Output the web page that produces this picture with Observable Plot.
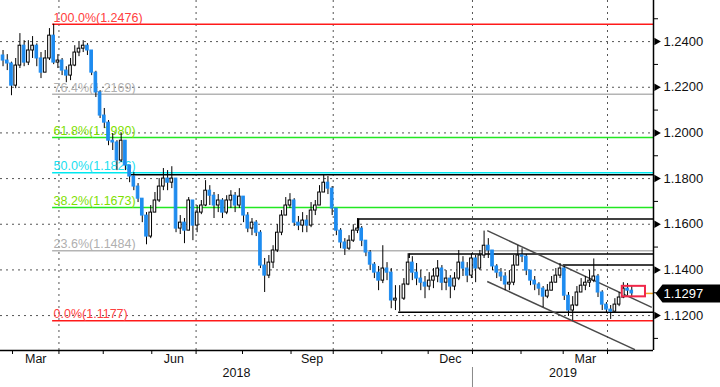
<!DOCTYPE html>
<html><head><meta charset="utf-8">
<script src="https://cdn.jsdelivr.net/npm/d3@7"></script>
<script src="https://cdn.jsdelivr.net/npm/@observablehq/plot@0.6"></script>
<style>html,body{margin:0;padding:0;background:#fff;overflow:hidden}</style>
</head><body><div id="chart"></div>
<script>
// ---- data (EUR/USD, 2-trading-day candles) ----
const barStart = "2018-02-22";
const barSpan = 2;
const firstOpen = 1.2339;
const closes = [
 1.2317,1.2304,1.2207,1.2295,1.2382,1.2308,1.2361,1.2382,1.2326,1.2264,
 1.2326,1.2426,1.2308,1.2317,1.2273,1.2251,1.2295,1.2352,1.2369,1.2382,
 1.2361,1.2264,1.2177,1.2076,1.2045,1.1966,1.1958,1.1879,1.1966,1.1857,
 1.1809,1.1765,1.1712,1.1638,1.1546,1.1651,1.1704,1.1765,1.1800,1.1782,
 1.1800,1.1581,1.1607,1.1572,1.1704,1.1594,1.1651,1.1682,1.1747,1.1725,
 1.1682,1.1704,1.1651,1.1704,1.1725,1.1682,1.1721,1.1638,1.1581,1.1607,
 1.1563,1.1419,1.1375,1.1432,1.1485,1.1563,1.1638,1.1682,1.1704,1.1607,
 1.1594,1.1616,1.1594,1.1660,1.1682,1.1739,1.1782,1.1756,1.1669,1.1572,
 1.1520,1.1493,1.1528,1.1572,1.1581,1.1528,1.1476,1.1423,1.1388,1.1353,
 1.1406,1.1388,1.1266,1.1274,1.1274,1.1336,1.1432,1.1388,1.1362,1.1344,
 1.1327,1.1353,1.1371,1.1406,1.1344,1.1362,1.1327,1.1362,1.1432,1.1406,
 1.1375,1.1450,1.1406,1.1463,1.1506,1.1485,1.1415,1.1388,1.1371,1.1336,
 1.1344,1.1419,1.1463,1.1458,1.1397,1.1353,1.1336,1.1318,1.1283,1.1309,
 1.1344,1.1375,1.1406,1.1287,1.1222,1.1244,1.1301,1.1331,1.1344,1.1353,
 1.1371,1.1301,1.1248,1.1226,1.1217,1.1248,1.1279,1.1318,1.1309,1.1297
];
const highs = [
 1.2361,1.2343,1.2310,1.2326,1.2435,1.2404,1.2404,1.2422,1.2390,1.2352,
 1.2361,1.2457,1.2476,1.2343,1.2326,1.2290,1.2326,1.2382,1.2396,1.2404,
 1.2391,1.2361,1.2270,1.2185,1.2107,1.2054,1.1997,1.1966,1.1997,1.1966,
 1.1857,1.1826,1.1778,1.1712,1.1651,1.1682,1.1739,1.1800,1.1844,1.1835,
 1.1852,1.1800,1.1638,1.1625,1.1717,1.1704,1.1682,1.1704,1.1791,1.1769,
 1.1739,1.1730,1.1712,1.1725,1.1747,1.1739,1.1756,1.1721,1.1651,1.1625,
 1.1616,1.1572,1.1450,1.1463,1.1506,1.1598,1.1660,1.1717,1.1734,1.1712,
 1.1634,1.1651,1.1638,1.1695,1.1704,1.1769,1.1815,1.1809,1.1765,1.1669,
 1.1581,1.1537,1.1550,1.1598,1.1625,1.1590,1.1528,1.1485,1.1432,1.1415,
 1.1506,1.1432,1.1406,1.1331,1.1331,1.1362,1.1471,1.1458,1.1428,1.1397,
 1.1371,1.1388,1.1406,1.1441,1.1419,1.1397,1.1375,1.1388,1.1485,1.1458,
 1.1432,1.1471,1.1463,1.1485,1.1570,1.1537,1.1485,1.1423,1.1406,1.1388,
 1.1397,1.1463,1.1506,1.1493,1.1467,1.1397,1.1371,1.1344,1.1327,1.1336,
 1.1371,1.1406,1.1428,1.1415,1.1301,1.1283,1.1327,1.1362,1.1371,1.1397,
 1.1448,1.1380,1.1309,1.1257,1.1244,1.1274,1.1301,1.1344,1.1340,1.1327
];
const lows = [
 1.2290,1.2273,1.2163,1.2194,1.2282,1.2290,1.2295,1.2326,1.2290,1.2238,
 1.2264,1.2317,1.2299,1.2282,1.2251,1.2220,1.2229,1.2290,1.2334,1.2352,
 1.2339,1.2251,1.2155,1.2063,1.2019,1.1944,1.1923,1.1835,1.1870,1.1835,
 1.1782,1.1747,1.1695,1.1607,1.1510,1.1537,1.1651,1.1695,1.1747,1.1747,
 1.1756,1.1563,1.1555,1.1515,1.1572,1.1528,1.1563,1.1642,1.1677,1.1682,
 1.1625,1.1651,1.1625,1.1642,1.1669,1.1651,1.1669,1.1607,1.1563,1.1550,
 1.1546,1.1406,1.1301,1.1362,1.1406,1.1476,1.1550,1.1638,1.1669,1.1590,
 1.1572,1.1563,1.1563,1.1585,1.1638,1.1682,1.1739,1.1730,1.1638,1.1550,
 1.1493,1.1463,1.1485,1.1520,1.1559,1.1502,1.1458,1.1397,1.1362,1.1309,
 1.1340,1.1353,1.1230,1.1222,1.1216,1.1266,1.1331,1.1353,1.1331,1.1309,
 1.1274,1.1309,1.1318,1.1344,1.1309,1.1309,1.1274,1.1309,1.1353,1.1371,
 1.1344,1.1362,1.1344,1.1397,1.1450,1.1450,1.1397,1.1362,1.1349,1.1309,
 1.1309,1.1331,1.1419,1.1432,1.1375,1.1331,1.1309,1.1287,1.1235,1.1274,
 1.1309,1.1344,1.1362,1.1266,1.1196,1.1177,1.1239,1.1301,1.1309,1.1323,
 1.1344,1.1279,1.1222,1.1209,1.1183,1.1213,1.1239,1.1274,1.1287,1.1283
];

// Fibonacci retracement
const fibPct = [100, 76.4, 61.8, 50, 38.2, 23.6, 0];
const fibValues = [1.2476, 1.2169, 1.1980, 1.1826, 1.1673, 1.1484, 1.1177];
const fibStart = "2018-03-28";

// drawn support / resistance lines
const levelValues = [1.1817, 1.1623, 1.1470, 1.1422, 1.1214];
const levelStarts = ["2018-05-17", "2018-10-17", "2018-11-20", "2019-03-01", "2018-11-13"];
const levelTickEnds = [null, 1.1581, 1.1450, null, null];

// falling channel
const channelStarts = ["2019-01-10", "2019-01-10"];
const channelEnds = ["2019-04-30", "2019-04-18"];
const channelStartValues = [1.1572, 1.1349];
const channelEndValues = [1.1236, 1.1051];

const lastPrice = 1.1297;
const boxDates = ["2019-04-10", "2019-04-25"];
const boxValues = [1.1282, 1.1328];

// axes
const xDomain = [-5.7, 303.8];          // trading-day index (0 = 2018-03-01)
const yDomain = [1.1047, 1.2580];
const yMajorTicks = [1.12, 1.14, 1.16, 1.18, 1.20, 1.22, 1.24];
const yMinorTicks = [1.11, 1.13, 1.15, 1.17, 1.19, 1.21, 1.23, 1.25];
const monthStarts = ["2018-03-01","2018-04-01","2018-05-01","2018-06-01","2018-07-01","2018-08-01","2018-09-01",
  "2018-10-01","2018-11-01","2018-12-01","2019-01-01","2019-02-01","2019-03-01","2019-04-01"];
const gridDates = ["2018-04-01","2018-07-01","2018-10-01","2019-01-01","2019-04-01"];
const monthLabelNames = ["Mar","Jun","Sep","Dec","Mar"];
const monthLabelMonths = ["2018-03","2018-06","2018-09","2018-12","2019-03"];
const yearLabels = ["2018","2019"];
const yearBoundary = "2019-01-01";

// ---- styles ----
const fibLineColors = ["#ff1a1a","#b4b4b4","#22e822","#00e8f0","#22e822","#b4b4b4","#ff1a1a"];
const fibTextColors = ["#ff4040","#b0b0b0","#7ee000","#20e0f0","#7ee000","#b0b0b0","#ff4040"];
const upFill = "#ffffff", downFill = "#1e8cf0";

// ---- helpers ----
const origin = new Date("2018-03-01T00:00:00Z");
const weekdays = (a, b) => d3.utcDay.range(a, b).filter(t => t.getUTCDay() % 6 !== 0).length;
function tIdx(s) {
  const d = new Date(s + "T00:00:00Z");
  return d >= origin ? weekdays(origin, d) : -weekdays(d, origin);
}

const i0 = tIdx(barStart);
const candles = closes.map((c, k) => {
  const open = k ? closes[k - 1] : firstOpen;
  return {i: i0 + barSpan * k + (barSpan - 1) / 2, open, close: c,
          high: Math.max(highs[k], open, c), low: Math.min(lows[k], open, c), up: c >= open};
});

const fibStartIdx = tIdx(fibStart);
const fibs = fibValues.map((v, j) => ({value: v, pct: fibPct[j], start: fibStartIdx, end: xDomain[1],
  line: fibLineColors[j], textColor: fibTextColors[j]}));
const levels = levelValues.map((v, j) => ({value: v, start: tIdx(levelStarts[j]), end: xDomain[1], tickEnd: levelTickEnds[j]}));
const channel = channelStartValues.map((v, j) => ({x1: tIdx(channelStarts[j]), x2: tIdx(channelEnds[j]), y1: v, y2: channelEndValues[j]}));
const box = [{x1: tIdx(boxDates[0]), x2: tIdx(boxDates[1]), y1: boxValues[0], y2: boxValues[1]}];
const monthIdx = monthStarts.map(tIdx);
const gridIdx = gridDates.map(tIdx);
const monthLabels = monthLabelMonths.map((m, j) => {
  const s = new Date(m + "-01T00:00:00Z");
  const e = d3.utcMonth.offset(s, 1);
  const a = tIdx(s.toISOString().slice(0, 10)), b = tIdx(e.toISOString().slice(0, 10));
  return {pos: (a + b) / 2, name: monthLabelNames[j]};
});
const yb = tIdx(yearBoundary);
const years = [{pos: (xDomain[0] + yb) / 2, name: yearLabels[0]}, {pos: (yb + xDomain[1]) / 2, name: yearLabels[1]}];

const tagSymbol = {draw(ctx) {
  ctx.moveTo(2, 0); ctx.lineTo(9, -9); ctx.lineTo(67, -9); ctx.lineTo(67, 9); ctx.lineTo(9, 9); ctx.closePath();
}};

const chart = Plot.plot({
  width: 720, height: 387,
  marginLeft: 0, marginRight: 67, marginTop: 0, marginBottom: 37,
  x: {domain: xDomain, label: null},
  y: {domain: yDomain, label: null},
  style: {fontFamily: "'Liberation Sans', Arial, sans-serif", background: "#fff", color: "#111"},
  marks: [
    // dotted grid
    Plot.ruleY(yMajorTicks, {stroke: "#555", strokeDasharray: "2,4"}),
    Plot.ruleX(gridIdx, {stroke: "#555", strokeDasharray: "2,4"}),
    // black levels
    Plot.ruleY(levels, {y: "value", x1: "start", x2: "end", stroke: "#000", strokeWidth: 1.5}),
    Plot.ruleX(levels.filter(d => d.tickEnd != null), {x: "start", y1: "value", y2: "tickEnd", stroke: "#000", strokeWidth: 1.5}),
    // fib levels
    Plot.ruleY(fibs, {y: "value", x1: "start", x2: "end", stroke: "line", strokeWidth: 1.5}),
    Plot.text(fibs, {x: "start", y: "value", text: d => `${d.pct.toFixed(1)}%(${d.value.toFixed(4)})`,
      fill: "textColor", textAnchor: "start", lineAnchor: "bottom", dx: 1, dy: -2.5, fontSize: 12.5}),
    // channel
    Plot.link(channel, {x1: "x1", y1: "y1", x2: "x2", y2: "y2", stroke: "#4a4a4a", strokeWidth: 1.5}),
    // candles
    Plot.ruleX(candles, {x: "i", y1: "low", y2: "high", stroke: "#000", strokeWidth: 1}),
    Plot.rect(candles, {x1: d => d.i - 0.62, x2: d => d.i + 0.62, y1: "open", y2: "close",
      fill: d => d.up ? upFill : downFill, stroke: d => d.up ? "#000" : downFill, strokeWidth: 1}),
    // last price markers
    Plot.ruleY([lastPrice], {x1: box[0].x2, x2: xDomain[1], stroke: "#f0a020", strokeWidth: 1.5}),
    Plot.rect(box, {x1: "x1", x2: "x2", y1: "y1", y2: "y2", fill: "none", stroke: "#f0284a", strokeWidth: 2}),
    // axis lines
    Plot.ruleX([xDomain[1]], {stroke: "#000", strokeWidth: 1.5}),
    Plot.ruleY([yDomain[0]], {stroke: "#000", strokeWidth: 1.5}),
    // y axis
    Plot.axisY(yMinorTicks, {anchor: "right", tickSize: 4, tickFormat: () => "", stroke: "#000"}),
    Plot.dot(yMajorTicks, {y: d => d, frameAnchor: "right", symbol: "triangle", rotate: 90, r: 2.8, fill: "#000", stroke: null, dx: 3}),
    Plot.axisY(yMajorTicks, {anchor: "right", tickSize: 0, tickPadding: 10, tickFormat: d3.format(".4f"), fontSize: 13, fill: "#111"}),
    Plot.dot([lastPrice], {y: d => d, frameAnchor: "right", symbol: tagSymbol, r: 5, fill: "#000", stroke: null}),
    Plot.text([lastPrice], {y: d => d, frameAnchor: "right", dx: 10, text: d => d.toFixed(4), textAnchor: "start", fill: "#fff", fontSize: 13}),
    // x axis
    Plot.axisX(monthIdx, {anchor: "bottom", tickSize: 4, tickFormat: () => "", stroke: "#000"}),
    Plot.axisX([yb], {anchor: "bottom", tickSize: 20, dy: 17, tickFormat: () => "", stroke: "#888"}),
    Plot.text(monthLabels, {x: "pos", text: "name", frameAnchor: "bottom", dy: 12, fontSize: 12.5, fill: "#111"}),
    Plot.text(years, {x: "pos", text: "name", frameAnchor: "bottom", dy: 26, fontSize: 12.5, fill: "#111"})
  ]
});
document.getElementById("chart").appendChild(chart);
</script>
</body></html>
